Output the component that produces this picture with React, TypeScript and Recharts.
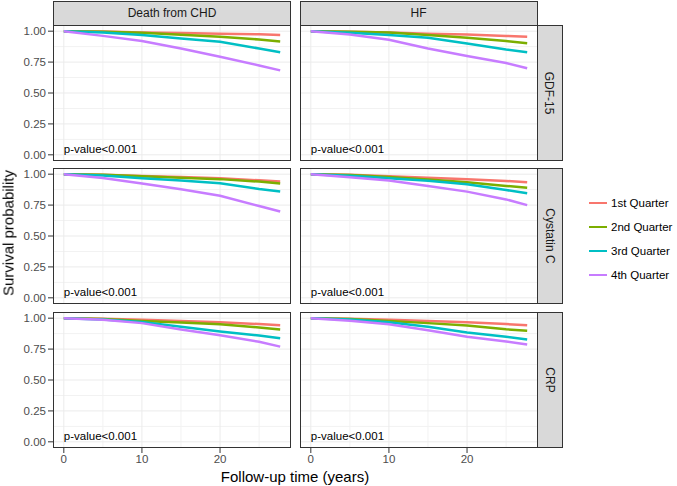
import React from 'react';
import { LineChart, Line, XAxis, YAxis, ReferenceLine, ReferenceDot } from 'recharts';

const TIME = [0, 5, 10, 15, 20, 25, 27.7];

const QUARTERS = ['1st Quarter', '2nd Quarter', '3rd Quarter', '4th Quarter'];
const COLORS = ['#F8766D', '#7CAE00', '#00BFC4', '#C77CFF'];
const COLUMNS = ['Death from CHD', 'HF'];
const ROWS = ['GDF-15', 'Cystatin C', 'CRP'];

const X_TICKS = [0, 10, 20];
const X_MINOR = [5, 15, 25];
const Y_TICKS = [0, 0.25, 0.5, 0.75, 1];
const Y_MINOR = [0.125, 0.375, 0.625, 0.875];

// survival by quarter (1st..4th) at TIME points
const CHD_GDF15 = [
  [1, 0.997, 0.99, 0.985, 0.98, 0.975, 0.97],
  [1, 0.995, 0.987, 0.972, 0.954, 0.933, 0.917],
  [1, 0.99, 0.97, 0.94, 0.914, 0.86, 0.83],
  [1, 0.962, 0.92, 0.86, 0.793, 0.723, 0.683],
];
const HF_GDF15 = [
  [1, 0.995, 0.99, 0.98, 0.973, 0.962, 0.954],
  [1, 0.995, 0.99, 0.97, 0.946, 0.92, 0.903],
  [1, 0.987, 0.97, 0.946, 0.9, 0.852, 0.83],
  [1, 0.973, 0.93, 0.86, 0.8, 0.742, 0.7],
];
const CHD_CYSC = [
  [1, 0.995, 0.986, 0.977, 0.967, 0.95, 0.94],
  [1, 0.995, 0.984, 0.972, 0.96, 0.94, 0.924],
  [1, 0.99, 0.967, 0.948, 0.927, 0.88, 0.859],
  [1, 0.97, 0.924, 0.878, 0.826, 0.742, 0.698],
];
const HF_CYSC = [
  [1, 0.995, 0.984, 0.972, 0.96, 0.945, 0.935],
  [1, 0.993, 0.978, 0.957, 0.935, 0.905, 0.89],
  [1, 0.988, 0.967, 0.946, 0.918, 0.872, 0.845],
  [1, 0.976, 0.948, 0.905, 0.859, 0.796, 0.75],
];
const CHD_CRP = [
  [1, 0.995, 0.987, 0.978, 0.968, 0.952, 0.943],
  [1, 0.993, 0.978, 0.965, 0.951, 0.925, 0.908],
  [1, 0.99, 0.97, 0.93, 0.892, 0.86, 0.838],
  [1, 0.987, 0.96, 0.908, 0.862, 0.809, 0.77],
];
const HF_CRP = [
  [1, 0.996, 0.987, 0.978, 0.968, 0.952, 0.943],
  [1, 0.993, 0.978, 0.96, 0.94, 0.91, 0.898],
  [1, 0.99, 0.968, 0.93, 0.884, 0.849, 0.827],
  [1, 0.98, 0.951, 0.903, 0.849, 0.811, 0.787],
];

const PANELS = [
  [CHD_GDF15, HF_GDF15],
  [CHD_CYSC, HF_CYSC],
  [CHD_CRP, HF_CRP],
];

const FONT = '"Liberation Sans", Arial, sans-serif';
const PLOT_W = 238;
const PLOT_H = 136;
const COL_X = [53, 299.5];
const ROW_Y = [24.5, 168, 311.5];
const Y_AXIS_W = 53;
const X_AXIS_H = 26;
const X_DOMAIN = [-1.385, 29.085];
const Y_DOMAIN = [-0.05, 1.05];

const Panel = ({ row, col }: { row: number; col: number }) => {
  const series = PANELS[row][col];
  const data = TIME.map((t, i) => ({ t, q0: series[0][i], q1: series[1][i], q2: series[2][i], q3: series[3][i] }));
  const showY = col === 0;
  const showX = row === 2;
  const w = PLOT_W + (showY ? Y_AXIS_W : 0);
  const h = PLOT_H + (showX ? X_AXIS_H : 0);
  const tick = { fill: '#4D4D4D', fontSize: 11.5, fontFamily: FONT };
  return (
    <div style={{ position: 'absolute', left: COL_X[col] - (showY ? Y_AXIS_W : 0), top: ROW_Y[row] }}>
      <LineChart width={w} height={h} data={data} margin={{ top: 0, right: 0, bottom: 0, left: 0 }}>
        <XAxis
          dataKey="t"
          type="number"
          domain={X_DOMAIN}
          ticks={X_TICKS}
          allowDataOverflow
          hide={!showX}
          height={X_AXIS_H}
          axisLine={false}
          tickSize={5}
          tickMargin={2}
          tickLine={{ stroke: '#333333' }}
          tick={tick}
        />
        <YAxis
          type="number"
          domain={Y_DOMAIN}
          ticks={Y_TICKS}
          allowDataOverflow
          hide={!showY}
          width={Y_AXIS_W}
          axisLine={false}
          tickSize={5}
          tickMargin={2}
          tickLine={{ stroke: '#333333' }}
          tick={tick}
          tickFormatter={(v: number) => v.toFixed(2)}
        />
        {X_MINOR.map((v) => (
          <ReferenceLine key={'xm' + v} x={v} stroke="#F2F2F2" strokeWidth={1} />
        ))}
        {Y_MINOR.map((v) => (
          <ReferenceLine key={'ym' + v} y={v} stroke="#F2F2F2" strokeWidth={1} />
        ))}
        {X_TICKS.map((v) => (
          <ReferenceLine key={'x' + v} x={v} stroke="#EBEBEB" strokeWidth={1} />
        ))}
        {Y_TICKS.map((v) => (
          <ReferenceLine key={'y' + v} y={v} stroke="#EBEBEB" strokeWidth={1} />
        ))}
        {QUARTERS.map((q, i) => (
          <Line
            key={q}
            dataKey={'q' + i}
            name={q}
            type="linear"
            stroke={COLORS[i]}
            strokeWidth={2.5}
            dot={false}
            isAnimationActive={false}
          />
        ))}
        <ReferenceDot
          x={0}
          y={0.045}
          r={0}
          fill="none"
          stroke="none"
          label={{ value: 'p-value<0.001', position: 'right', offset: 0, fill: '#000', fontSize: 11.5, fontFamily: FONT }}
        />
      </LineChart>
    </div>
  );
};

export default function App() {
  const border = '1px solid #333333';
  return (
    <div style={{ position: 'fixed', left: 0, top: 0, width: 677, height: 486, background: '#fff', fontFamily: FONT }}>
      {ROWS.map((_, r) => COLUMNS.map((__, c) => <Panel key={r + '-' + c} row={r} col={c} />))}
      {ROWS.map((_, r) =>
        COLUMNS.map((__, c) => (
          <div
            key={'b' + r + c}
            style={{ position: 'absolute', left: COL_X[c], top: ROW_Y[r], width: PLOT_W, height: PLOT_H, border, boxSizing: 'border-box', pointerEvents: 'none' }}
          />
        ))
      )}
      {COLUMNS.map((name, c) => (
        <div
          key={'s' + c}
          style={{
            position: 'absolute', left: COL_X[c], top: 1, width: PLOT_W, height: ROW_Y[0], border, boxSizing: 'border-box',
            background: '#D9D9D9', color: '#1A1A1A', fontSize: 12, display: 'flex', alignItems: 'center', justifyContent: 'center',
          }}
        >
          {name}
        </div>
      ))}
      {ROWS.map((name, r) => (
        <div
          key={'rs' + r}
          style={{
            position: 'absolute', left: COL_X[1] + PLOT_W - 1, top: ROW_Y[r], width: 26, height: PLOT_H, border, boxSizing: 'border-box',
            background: '#D9D9D9', color: '#1A1A1A', fontSize: 12, display: 'flex', alignItems: 'center', justifyContent: 'center',
          }}
        >
          <span style={{ transform: 'rotate(90deg)', whiteSpace: 'nowrap' }}>{name}</span>
        </div>
      ))}
      <div
        style={{ position: 'absolute', left: 8, top: 233, transform: 'translate(-50%, -50%) rotate(-90deg)', whiteSpace: 'nowrap', fontSize: 15, color: '#000' }}
      >
        Survival probability
      </div>
      <div
        style={{ position: 'absolute', left: 295, top: 476, transform: 'translate(-50%, -50%)', whiteSpace: 'nowrap', fontSize: 15, color: '#000' }}
      >
        Follow-up time (years)
      </div>
      {QUARTERS.map((q, i) => (
        <div key={q} style={{ position: 'absolute', left: 589, top: 203 + i * 24 - 8, height: 16, display: 'flex', alignItems: 'center' }}>
          <div style={{ width: 18, height: 2.5, background: COLORS[i] }} />
          <span style={{ marginLeft: 4, fontSize: 11.5, color: '#000', whiteSpace: 'nowrap' }}>{q}</span>
        </div>
      ))}
    </div>
  );
}
